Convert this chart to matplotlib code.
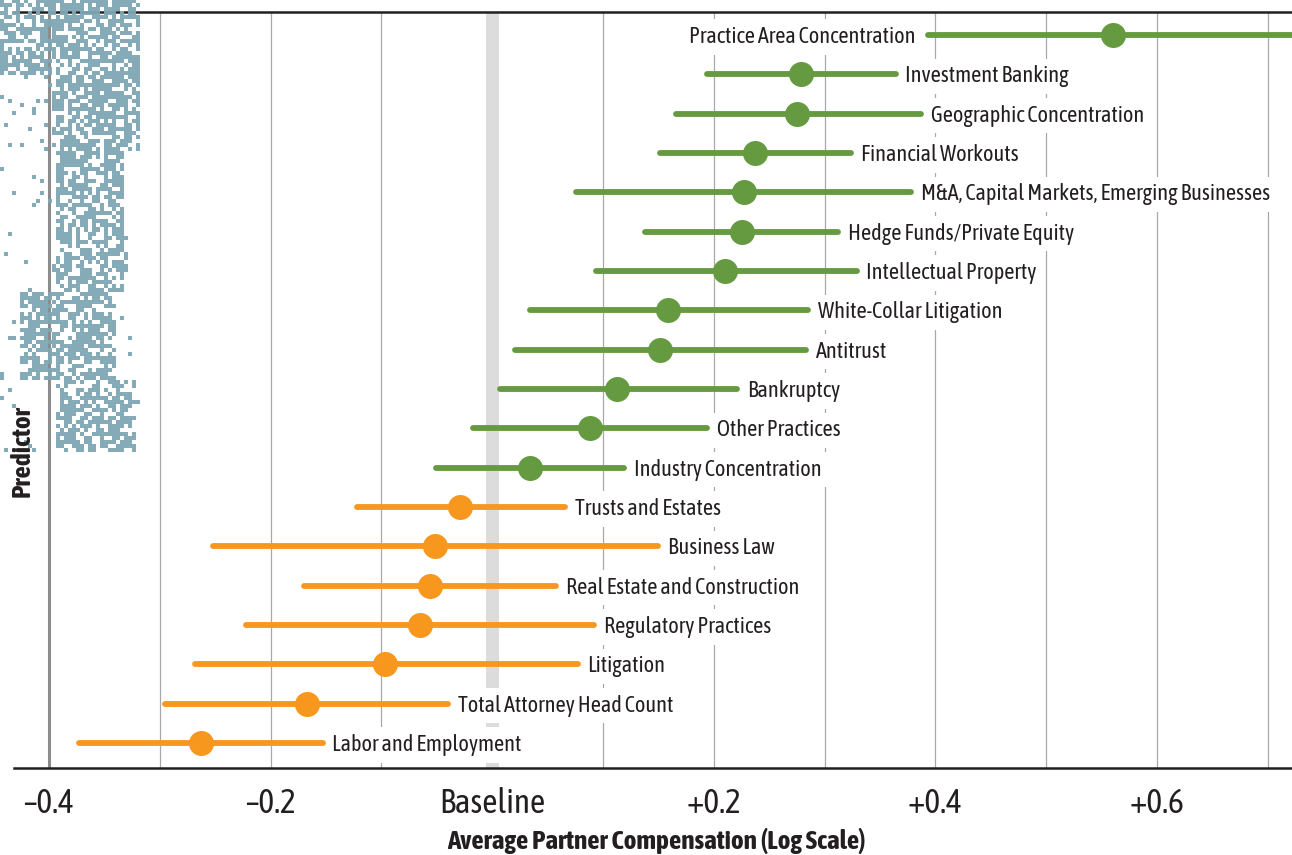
import matplotlib
matplotlib.use("Agg")
import matplotlib.pyplot as plt
from matplotlib import font_manager as fm
import numpy as np

# data (log scale offsets from baseline)
green_labels = ['Practice Area Concentration', 'Investment Banking', 'Geographic Concentration',
                'Financial Workouts', 'M&A, Capital Markets, Emerging Businesses',
                'Hedge Funds/Private Equity', 'Intellectual Property', 'White-Collar Litigation',
                'Antitrust', 'Bankruptcy', 'Other Practices', 'Industry Concentration']
green_est = [0.560, 0.279, 0.275, 0.237, 0.227, 0.225, 0.210, 0.159, 0.151, 0.113, 0.088, 0.034]
green_low = [0.393, 0.194, 0.166, 0.151, 0.076, 0.138, 0.094, 0.034, 0.021, 0.007, -0.017, -0.051]
green_high = [0.760, 0.364, 0.387, 0.324, 0.378, 0.312, 0.329, 0.285, 0.283, 0.221, 0.194, 0.119]

orange_labels = ['Trusts and Estates', 'Business Law', 'Real Estate and Construction',
                 'Regulatory Practices', 'Litigation', 'Total Attorney Head Count',
                 'Labor and Employment']
orange_est = [-0.029, -0.052, -0.056, -0.065, -0.097, -0.167, -0.263]
orange_low = [-0.122, -0.252, -0.170, -0.222, -0.268, -0.295, -0.373]
orange_high = [0.066, 0.150, 0.058, 0.092, 0.077, -0.040, -0.153]

tick_vals = [-0.4, -0.2, 0.0, 0.2, 0.4, 0.6]
tick_text = ['\u20130.4', '\u20130.2', 'Baseline', '+0.2', '+0.4', '+0.6']

GREEN = '#659a41'
ORANGE = '#f7971e'
TEXT = '#231f20'

# look for a narrow face that also has a bold weight
weights = {}
for f in fm.fontManager.ttflist:
    if 'Narrow' in f.name or 'Condensed' in f.name:
        w = f.weight if isinstance(f.weight, int) else 400
        weights.setdefault(f.name, set()).add(w)
narrow = [nm for nm, ws in weights.items() if max(ws) >= 600]
if not narrow:
    narrow = list(weights)
FAM = narrow[0] if narrow else 'DejaVu Sans'
scale = 1.0 if narrow else 0.82

lab_fs, tick_fs, title_fs = 16 * scale, 24 * scale, 19.5 * scale

plt.rcParams['font.family'] = [FAM, 'DejaVu Sans']

fig = plt.figure(figsize=(12.92, 8.55), dpi=100)
ax = fig.add_axes([14 / 1292, 1 - 768 / 855, 1 - 14 / 1292, (768 - 12) / 855])

n = len(green_labels) + len(orange_labels)
ax.set_xlim(-0.4316, 0.7218)
ax.set_ylim(n - 1 + 0.635, -0.585)

# grid
for g in np.arange(-0.3, 0.75, 0.1):
    ax.axvline(g, color='#a8a8a8', lw=0.9, zorder=0)
ax.axvline(-0.4, color='#8c8c8c', lw=2.2, zorder=0)
ax.axvspan(-0.0056, 0.0061, ymin=0, ymax=1, color='#dcdcdc', lw=0, zorder=0.5)

rows = [(green_labels, green_est, green_low, green_high, GREEN, 0),
        (orange_labels, orange_est, orange_low, orange_high, ORANGE, len(green_labels))]
for labels, est, low, high, col, start in rows:
    for i, (lab, e, lo, hi) in enumerate(zip(labels, est, low, high)):
        y = start + i
        ax.plot([lo, hi], [y, y], color=col, lw=4.2, solid_capstyle='round', zorder=3)
        ax.plot(e, y, 'o', color=col, ms=18, mec='none', zorder=4)
        if y == 0:
            ax.annotate(lab, (lo, y), xytext=(-9, -1.5), textcoords='offset points',
                        ha='right', va='center', fontsize=lab_fs, color=TEXT, zorder=2,
                        bbox=dict(boxstyle='square,pad=0.3', fc='white', ec='none'))
        else:
            ax.annotate(lab, (hi, y), xytext=(7, -1.5), textcoords='offset points',
                        ha='left', va='center', fontsize=lab_fs, color=TEXT, zorder=2,
                        bbox=dict(boxstyle='square,pad=0.3', fc='white', ec='none'))

for s in ['left', 'right']:
    ax.spines[s].set_visible(False)
for s in ['top', 'bottom']:
    ax.spines[s].set_color('#231f20')
    ax.spines[s].set_linewidth(1.8)

ax.set_xticks(tick_vals)
ax.set_xticklabels(tick_text, fontsize=tick_fs, color=TEXT)
ax.tick_params(axis='x', length=0, pad=14)
ax.set_yticks([])
fig.text(656 / 1292, 1 - 841 / 855, 'Average Partner Compensation (Log Scale)', ha='center',
         va='center', fontsize=title_fs, fontweight='bold', color=TEXT)
fig.text(22 / 1292, 1 - 451 / 855, 'Predictor', rotation=90, ha='center', va='center',
         fontsize=title_fs, fontweight='bold', color=TEXT)

# pixel speckle overlay at the upper left of the reference
rng = np.random.default_rng(7)
rows_n, cols_n = 113, 35
dens = np.zeros((rows_n, cols_n))
for r in range(rows_n):
    yp = r * 4
    for c in range(cols_n):
        xp = c * 4
        if yp < 75:
            d = 0.65
        elif yp < 150:
            d = 0.65 if xp >= 50 else 0.08
        elif yp < 290:
            d = 0.65 if 55 <= xp <= 120 else 0.03
        elif yp < 380:
            d = 0.65 if 20 <= xp <= 115 else 0.03
        else:
            d = 0.6 if 55 <= xp <= 132 else 0.03
        dens[r, c] = d
mask = rng.random((rows_n, cols_n)) < dens
img = np.zeros((rows_n, cols_n, 4))
img[..., 0] = 0x7f / 255
img[..., 1] = 0xa7 / 255
img[..., 2] = 0xb5 / 255
img[..., 3] = mask * 0.95
nax = fig.add_axes([0, 1 - 452 / 855, 140 / 1292, 452 / 855])
nax.imshow(img, interpolation='nearest', aspect='auto')
nax.axis('off')

fig.savefig('out.png', dpi=100)
